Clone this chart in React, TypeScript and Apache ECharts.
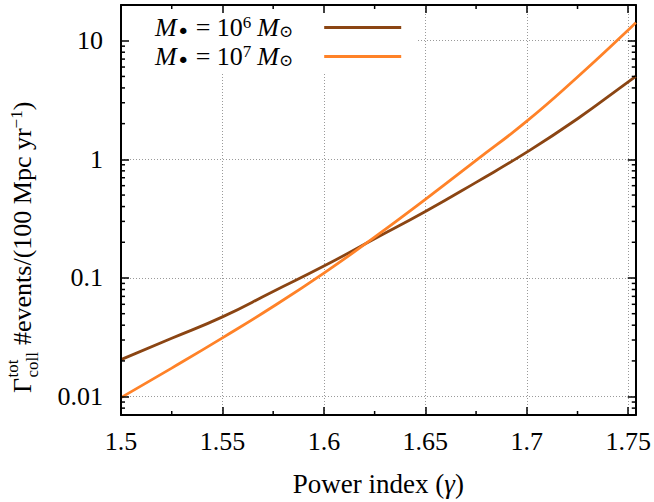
import React, { useEffect, useRef } from "react";
import * as echarts from "echarts";

// ---- data ----
const gammaValues = [1.5, 1.525, 1.55, 1.575, 1.6, 1.625, 1.65, 1.675, 1.7, 1.725, 1.75, 1.7537];
const rateM6 = [0.0205, 0.031, 0.047, 0.077, 0.126, 0.214, 0.363, 0.64, 1.15, 2.2, 4.5, 5.0];
const rateM7 = [0.0098, 0.0174, 0.0313, 0.0575, 0.11, 0.221, 0.46, 0.98, 2.1, 4.95, 12.3, 14.2];
const seriesNames = ["M• = 10⁶ M⊙", "M• = 10⁷ M⊙"];
const massExponents = ["6", "7"];
const seriesColors = ["#8b4513", "#ff8228"];
const yMajorTicks = [0.01, 0.1, 1, 10];
const yTickLabels = ["0.01", "0.1", "1", "10"];
const yMinorTicks = [
  0.008, 0.009,
  0.02, 0.03, 0.04, 0.05, 0.06, 0.07, 0.08, 0.09,
  0.2, 0.3, 0.4, 0.5, 0.6, 0.7, 0.8, 0.9,
  2, 3, 4, 5, 6, 7, 8, 9,
];
const xMinorTicks = [1.525, 1.575, 1.625, 1.675, 1.725];

const X_MIN = 1.5;
const X_MAX = 1.7537;
const X_INTERVAL = 0.05;
const Y_MIN = 0.007;
const Y_MAX = 20;

const FONT = "'Liberation Serif', 'DejaVu Serif', serif";
const FS = 26;
const MAJOR_LEN = 8;
const MINOR_LEN = 4;

function xLabel(v: number): string {
  const r = Math.round(v * 100) / 100;
  if (Math.abs(v - r) > 1e-6) return "";
  return String(r);
}
function yLabel(v: number): string {
  for (let i = 0; i < yMajorTicks.length; i++) {
    if (Math.abs(v - yMajorTicks[i]) / yMajorTicks[i] < 1e-6) return yTickLabels[i];
  }
  return "";
}

function minorTickSeries(values: number[], dir: "x" | "y") {
  return {
    type: "custom",
    silent: true,
    z: 6,
    clip: false,
    data: values.map((v) => (dir === "y" ? [X_MIN, v] : [v, 1])),
    renderItem: (_params: any, api: any) => {
      const st = { stroke: "#000", lineWidth: 1.5 };
      if (dir === "y") {
        const v = api.value(1);
        const a = api.coord([X_MIN, v]);
        const b = api.coord([X_MAX, v]);
        return {
          type: "group",
          children: [
            { type: "line", shape: { x1: a[0], y1: a[1], x2: a[0] + MINOR_LEN, y2: a[1] }, style: st },
            { type: "line", shape: { x1: b[0] - MINOR_LEN, y1: b[1], x2: b[0], y2: b[1] }, style: st },
          ],
        };
      }
      const v = api.value(0);
      const a = api.coord([v, Y_MIN]);
      const b = api.coord([v, Y_MAX]);
      return {
        type: "group",
        children: [
          { type: "line", shape: { x1: a[0], y1: a[1], x2: a[0], y2: a[1] - MINOR_LEN }, style: st },
          { type: "line", shape: { x1: b[0], y1: b[1], x2: b[0], y2: b[1] + MINOR_LEN }, style: st },
        ],
      };
    },
  };
}

export default function App() {
  const ref = useRef<HTMLDivElement>(null);
  useEffect(() => {
    if (!ref.current) return;
    const chart = echarts.init(ref.current, null, { renderer: "svg" });
    const axisLine = { show: true, lineStyle: { color: "#000", width: 2 } };
    const tick = { show: true, inside: true, length: MAJOR_LEN, lineStyle: { color: "#000", width: 1.5 } };
    const grid = { show: true, lineStyle: { color: "#9a9a9a", width: 1, type: [1, 2] } };
    const richText = {
      n: { fontFamily: FONT, fontSize: FS, color: "#000", lineHeight: 28 },
      i: { fontFamily: FONT, fontSize: FS, fontStyle: "italic", color: "#000", lineHeight: 28 },
      sp: { width: 6 },
      sup: { fontFamily: FONT, fontSize: 17, color: "#000", verticalAlign: "top", lineHeight: 17 },
      dot: { fontFamily: "'DejaVu Sans', sans-serif", fontSize: 22, color: "#000", lineHeight: 18, padding: [7, 0, 0, 0] },
      sun: { fontFamily: FONT, fontSize: 17, color: "#000", lineHeight: 17, padding: [7, 0, 0, 0] },
      gap: { width: 26 },
    };
    const option: any = {
      animation: false,
      backgroundColor: "#fff",
      grid: { left: 121, right: 16.5, top: 5, bottom: 85.5, containLabel: false },
      legend: {
        data: seriesNames,
        left: 121,
        top: 5,
        orient: "vertical",
        align: "right",
        icon: "rect",
        itemWidth: 77,
        itemHeight: 3,
        itemGap: 0,
        padding: [8, 16, 3, 34],
        backgroundColor: "#fff",
        z: 1,
        selectedMode: false,
        formatter: (name: string) => {
          const k = seriesNames.indexOf(name);
          return `{i|M}{dot|•}{sp|}{n|= 10}{sup|${massExponents[k]}}{sp|}{i|M}{sun|⊙}{gap|}`;
        },
        textStyle: { fontFamily: FONT, fontSize: FS, color: "#000", rich: richText },
      },
      xAxis: [
        {
          type: "value",
          position: "bottom",
          min: X_MIN,
          max: X_MAX,
          interval: X_INTERVAL,
          z: 0,
          axisLine,
          axisTick: tick,
          splitLine: grid,
          axisLabel: { formatter: xLabel, fontFamily: FONT, fontSize: FS, color: "#000", margin: 13 },
          name: "Power index ({g|γ})",
          nameLocation: "middle",
          nameGap: 55,
          nameTextStyle: {
            fontFamily: FONT,
            fontSize: 27,
            color: "#000",
            rich: { g: { fontFamily: FONT, fontSize: 27, fontStyle: "italic", color: "#000" } },
          },
        },
        {
          type: "value",
          position: "top",
          min: X_MIN,
          max: X_MAX,
          interval: X_INTERVAL,
          z: 3,
          axisLine,
          axisTick: tick,
          splitLine: { show: false },
          axisLabel: { show: false },
        },
      ],
      yAxis: [
        {
          type: "log",
          logBase: 10,
          position: "left",
          min: Y_MIN,
          max: Y_MAX,
          z: 3,
          axisLine,
          axisTick: tick,
          splitLine: { show: false },
          axisLabel: { formatter: yLabel, fontFamily: FONT, fontSize: FS, color: "#000", margin: 18 },
        },
        {
          type: "log",
          logBase: 10,
          position: "right",
          min: Y_MIN,
          max: Y_MAX,
          z: 0,
          axisLine,
          axisTick: tick,
          splitLine: grid,
          axisLabel: { show: false },
        },
      ],
      graphic: [
        {
          type: "group",
          x: 31,
          y: 393,
          rotation: Math.PI / 2,
          children: [
            { type: "text", x: 0, y: -9, style: { text: "Γ", fontFamily: FONT, fontSize: FS, fill: "#000", align: "left", verticalAlign: "middle" } },
            { type: "text", x: 15.5, y: -19, style: { text: "tot", fontFamily: FONT, fontSize: 17, fill: "#000", align: "left", verticalAlign: "middle" } },
            { type: "text", x: 15.5, y: 1, style: { text: "coll", fontFamily: FONT, fontSize: 17, fill: "#000", align: "left", verticalAlign: "middle" } },
            {
              type: "text",
              x: 48,
              y: -9,
              style: {
                text: "{n|#events/(100 Mpc yr}{sup|−1}{n|)}",
                fontFamily: FONT,
                fontSize: FS,
                fill: "#000",
                align: "left",
                verticalAlign: "middle",
                rich: {
                  n: { fontFamily: FONT, fontSize: FS, fill: "#000", lineHeight: 28 },
                  sup: { fontFamily: FONT, fontSize: 17, fill: "#000", verticalAlign: "top", lineHeight: 17 },
                },
              },
            },
          ],
        },
      ],
      series: [
        {
          name: seriesNames[0],
          type: "line",
          data: gammaValues.map((g, i) => [g, rateM6[i]]),
          smooth: true,
          showSymbol: false,
          z: 2,
          lineStyle: { color: seriesColors[0], width: 2.8 },
          itemStyle: { color: seriesColors[0] },
        },
        {
          name: seriesNames[1],
          type: "line",
          data: gammaValues.map((g, i) => [g, rateM7[i]]),
          smooth: true,
          showSymbol: false,
          z: 2,
          lineStyle: { color: seriesColors[1], width: 2.8 },
          itemStyle: { color: seriesColors[1] },
        },
        minorTickSeries(yMinorTicks, "y"),
        minorTickSeries(xMinorTicks, "x"),
      ],
    };
    chart.setOption(option);
    return () => chart.dispose();
  }, []);
  return <div ref={ref} style={{ position: "fixed", left: 0, top: 0, width: 654, height: 502, background: "#fff" }} />;
}
